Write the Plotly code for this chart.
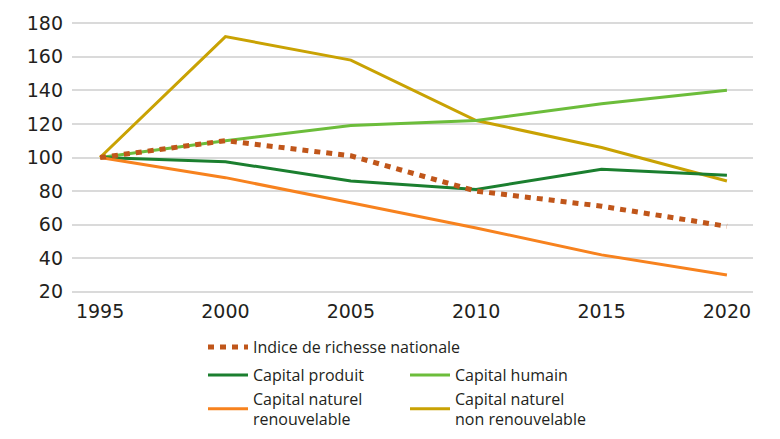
import plotly.graph_objects as go

years = [1995, 2000, 2005, 2010, 2015, 2020]
indice = [100, 110, 101, 80, 71, 59]
produit = [100, 97.5, 86, 81, 93, 89.5]
humain = [100, 110, 119, 122, 132, 140]
nat_renouv = [100, 88, 73, 58, 42, 30]
nat_non_renouv = [100, 172, 158, 122, 106, 86]
y_ticks = [20, 40, 60, 80, 100, 120, 140, 160, 180]

FONT = "Open Sans"
TICK_FONT = "DejaVu Sans"
W, H = 772, 431  # page body adds an 8px margin

fig = go.Figure()
fig.add_trace(go.Scatter(x=years, y=nat_non_renouv, mode="lines", name="Capital naturel<br>non renouvelable",
                         line=dict(color="#C9A203", width=3), legend="legend3", legendrank=2))
fig.add_trace(go.Scatter(x=years, y=humain, mode="lines", name="Capital humain",
                         line=dict(color="#6CBD3B", width=3), legend="legend2", legendrank=2))
fig.add_trace(go.Scatter(x=years, y=produit, mode="lines", name="Capital produit",
                         line=dict(color="#1B7F2F", width=3), legend="legend2", legendrank=1))
fig.add_trace(go.Scatter(x=years, y=nat_renouv, mode="lines", name="Capital naturel<br>renouvelable",
                         line=dict(color="#F7821E", width=3), legend="legend3", legendrank=1))
fig.add_trace(go.Scatter(x=years, y=indice, mode="lines", name="Indice de richesse nationale",
                         line=dict(color="#C0561A", width=5, dash="6px,6px"), legend="legend"))

leg_common = dict(orientation="h", xref="container", yref="container", xanchor="left", yanchor="middle",
                  font=dict(family=FONT, size=16, color="#231F20"), bgcolor="rgba(0,0,0,0)",
                  entrywidth=147, entrywidthmode="pixels", tracegroupgap=0, itemwidth=40)

fig.update_layout(
    width=W, height=H,
    margin=dict(l=64, r=27, t=14, b=146),
    paper_bgcolor="white", plot_bgcolor="white",
    font=dict(family=FONT, color="#231F20"),
    xaxis=dict(range=[1993.88, 2021.04], tickvals=years, showgrid=False, zeroline=False,
               showline=False, ticks="", automargin=False, ticklabelstandoff=5,
               tickfont=dict(family=TICK_FONT, size=19, color="#231F20")),
    yaxis=dict(range=[19.3, 180.7], tickvals=y_ticks, showgrid=True, gridcolor="#DADADA",
               gridwidth=1.5, zeroline=False, showline=False, ticks="", ticklabelstandoff=8,
               automargin=False, tickfont=dict(family=TICK_FONT, size=19, color="#231F20")),
    legend=dict(leg_common, entrywidth=0, x=195 / W, y=1 - 339 / H),
    legend2=dict(leg_common, x=195 / W, y=1 - 367 / H),
    legend3=dict(leg_common, x=195 / W, y=1 - 401 / H),
    showlegend=True,
)

fig.write_html("out.html")
